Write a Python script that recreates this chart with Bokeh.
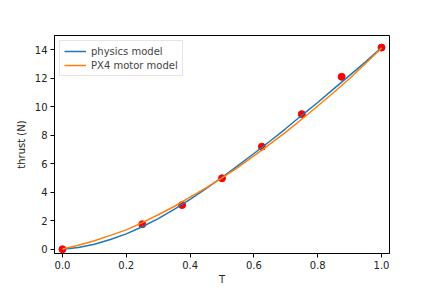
from bokeh.plotting import figure
from bokeh.models import Range1d, FixedTicker
from bokeh.embed import file_html
from bokeh.resources import INLINE

# measured data points
T_meas = [0.0, 0.25, 0.375, 0.5, 0.625, 0.75, 0.875, 1.0]
thrust_meas = [0.0, 1.75, 3.1, 4.98, 7.2, 9.48, 12.1, 14.15]

# model curves
T_curve = [0.0, 0.05, 0.1, 0.15, 0.2, 0.25, 0.3, 0.35, 0.4, 0.45, 0.5,
           0.55, 0.6, 0.65, 0.7, 0.75, 0.8, 0.85, 0.9, 0.95, 1.0]
physics = [0.0, 0.12, 0.35, 0.68, 1.08, 1.58, 2.15, 2.8, 3.5, 4.25, 5.05,
           5.87, 6.72, 7.58, 8.47, 9.4, 10.3, 11.25, 12.2, 13.15, 14.15]
px4 = [0.02, 0.28, 0.6, 0.97, 1.36, 1.87, 2.42, 3.0, 3.65, 4.3, 5.0,
       5.74, 6.55, 7.38, 8.22, 9.12, 10.05, 11.0, 11.98, 13.03, 14.12]

x_ticks = [0.0, 0.2, 0.4, 0.6, 0.8, 1.0]
y_ticks = [0, 2, 4, 6, 8, 10, 12, 14]

p = figure(width=432, height=288, output_backend="svg", toolbar_location=None,
           x_range=Range1d(-0.025, 1.025), y_range=Range1d(-0.3, 15.0),
           min_border_left=54, min_border_right=43, min_border_top=35, min_border_bottom=35)
p.background_fill_color = "white"
p.border_fill_color = "white"
p.outline_line_color = "black"
p.outline_line_width = 1
p.xgrid.visible = False
p.ygrid.visible = False

p.scatter(T_meas, thrust_meas, size=7, color="red", line_color="red")
p.line(T_curve, physics, line_color="#1f77b4", line_width=1.5, legend_label="physics model")
p.line(T_curve, px4, line_color="#ff7f0e", line_width=1.5, legend_label="PX4 motor model")

p.xaxis.ticker = FixedTicker(ticks=x_ticks)
p.yaxis.ticker = FixedTicker(ticks=y_ticks)
p.xaxis.major_label_overrides = {t: f"{t:.1f}" for t in x_ticks}
p.xaxis.axis_label = "T"
p.yaxis.axis_label = "thrust (N)"
for ax in (p.xaxis[0], p.yaxis[0]):
    ax.axis_line_color = "black"
    ax.major_tick_line_color = "black"
    ax.major_tick_out = 4
    ax.major_tick_in = 0
    ax.minor_tick_line_color = None
    ax.major_label_text_font = "DejaVu Sans"
    ax.major_label_text_font_size = "10px"
    ax.major_label_text_color = "#222222"
    ax.axis_label_text_font = "DejaVu Sans"
    ax.axis_label_text_font_size = "10px"
    ax.axis_label_text_font_style = "normal"
    ax.axis_label_text_color = "#222222"
    ax.major_label_standoff = 3
    ax.axis_label_standoff = 2
p.yaxis.axis_label_standoff = 5

p.legend.location = "top_left"
p.legend.label_text_font = "DejaVu Sans"
p.legend.label_text_font_size = "10px"
p.legend.label_height = 12
p.legend.glyph_height = 12
p.legend.glyph_width = 22
p.legend.spacing = 2
p.legend.padding = 4
p.legend.margin = 5
p.legend.border_line_color = "#cccccc"
p.legend.border_line_width = 1
p.legend.background_fill_alpha = 0.8

open("out.html", "w").write(file_html(p, INLINE))
